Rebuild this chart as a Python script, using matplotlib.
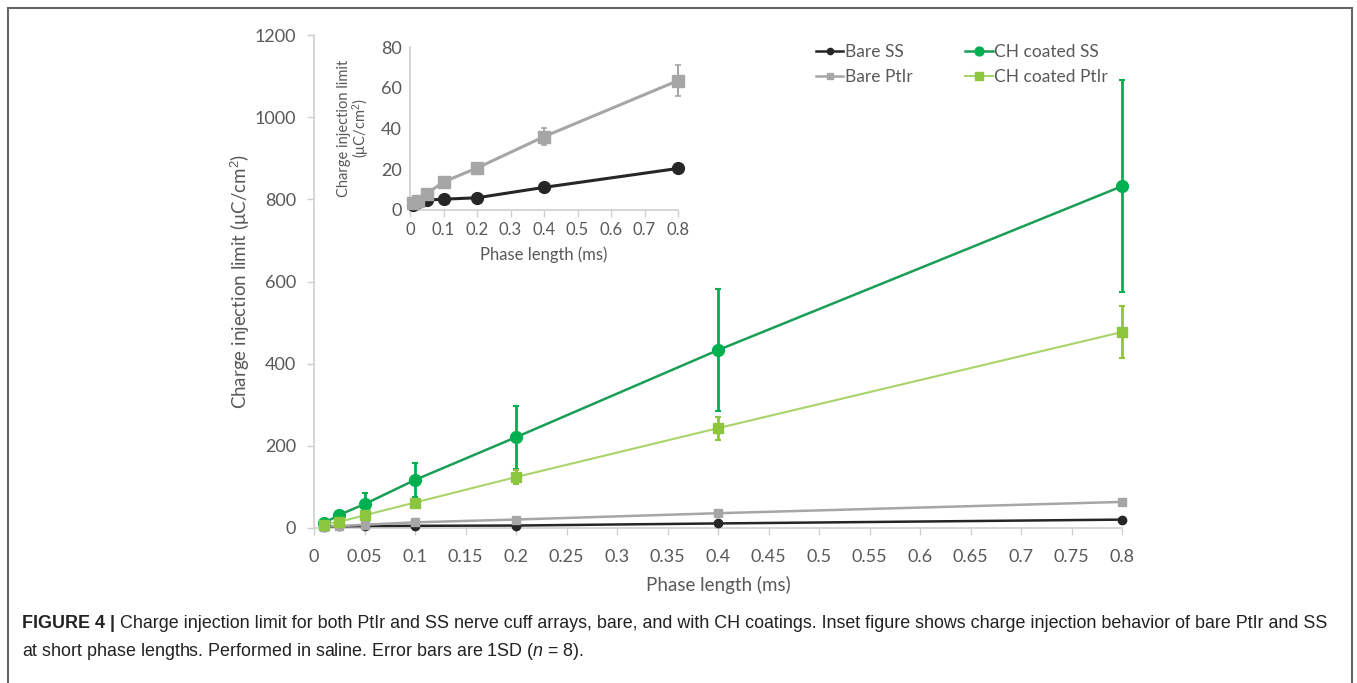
import numpy as np
import matplotlib
matplotlib.use("Agg")
import matplotlib.pyplot as plt
from matplotlib.patches import Rectangle

# phase lengths tested (ms)
phase_ms = [0.01, 0.025, 0.05, 0.1, 0.2, 0.4, 0.8]

# charge injection limit, uC/cm2, mean and 1SD
bare_ss = [2.4, 3.8, 4.9, 5.3, 6.0, 11.1, 20.4]
bare_ss_sd = [0.3, 0.3, 0.4, 0.5, 0.6, 1.0, 1.2]
bare_ptir = [3.5, 4.6, 8.0, 13.8, 20.6, 36.0, 63.5]
bare_ptir_sd = [0.4, 0.5, 0.8, 1.2, 1.5, 4.0, 7.7]
ch_ss = [12, 32, 58, 117, 221, 433, 832]
ch_ss_sd = [4, 6, 26, 41, 77, 148, 258]
ch_ptir = [8, 15, 31, 62, 124, 243, 477]
ch_ptir_sd = [2, 3, 4, 6, 17, 28, 64]

labels = ["Bare SS", "Bare PtIr", "CH coated SS", "CH coated PtIr"]
caption_bold = "FIGURE 4 | "
caption_1 = ("Charge injection limit for both PtIr and SS nerve cuff arrays, bare, and with CH coatings. "
             "Inset figure shows charge injection behavior of bare PtIr and SS")
caption_2 = "at short phase lengths. Performed in saline. Error bars are 1SD ($n$ = 8)."

plt.rcParams["font.family"] = ["Lato", "DejaVu Sans"]
plt.rcParams["mathtext.fontset"] = "custom"
plt.rcParams["mathtext.it"] = "Liberation Sans:italic"
plt.rcParams["mathtext.rm"] = "Liberation Sans"

tick_col = "#595959"
axis_col = "#d0d0d0"

series = [
    (bare_ss, bare_ss_sd, "#262626", "#262626", "o", 6, 1.8),
    (bare_ptir, bare_ptir_sd, "#a6a6a6", "#a6a6a6", "s", 6, 1.8),
    (ch_ss, ch_ss_sd, "#1a9e55", "#00b050", "o", 8.5, 1.8),
    (ch_ptir, ch_ptir_sd, "#a8d46a", "#8cc63f", "s", 7.5, 1.5),
]

fig = plt.figure(figsize=(13.57, 6.83), dpi=100)


def style_axes(ax, size):
    for side in ("top", "right"):
        ax.spines[side].set_visible(False)
    for side in ("left", "bottom"):
        ax.spines[side].set_color(axis_col)
        ax.spines[side].set_linewidth(1.2)
    ax.tick_params(colors=axis_col, labelcolor=tick_col, labelsize=size, length=5, width=1)
    ax.set_facecolor("white")


# main chart
ax = fig.add_axes([314 / 1357, 155 / 683, 808 / 1357, 493 / 683])
handles = []
for (vals, sd, lc, mc, mk, ms, lw), lab in zip(series, labels):
    line, = ax.plot(phase_ms, vals, color=lc, lw=lw, marker=mk, ms=ms,
                    mfc=mc, mec=mc, label=lab, zorder=3, clip_on=False)
    eb = ax.errorbar(phase_ms, vals, yerr=sd, fmt="none", ecolor=mc, elinewidth=2,
                     capsize=2.5, capthick=1.5, zorder=2)
    for art in eb.lines[1] + eb.lines[2]:
        art.set_clip_on(False)
    handles.append(line)

ax.set_xlim(0, 0.8)
ax.set_ylim(0, 1200)
xt = np.round(np.arange(0, 0.801, 0.05), 2)
ax.set_xticks(xt)
ax.set_xticklabels([f"{v:g}" for v in xt])
ax.set_yticks(range(0, 1201, 200))
style_axes(ax, 13)
ax.tick_params(axis="x", pad=10)
ax.tick_params(axis="y", pad=8)
ax.set_xlabel("Phase length (ms)", fontsize=13.5, color=tick_col, labelpad=8)
ax.set_ylabel("Charge injection limit (μC/cm$^2$)", fontsize=13.5, color=tick_col, labelpad=2)

fig.legend(handles=handles, labels=labels, ncol=2, loc="upper left",
           bbox_to_anchor=(800 / 1357, 1 - 28 / 683), frameon=False,
           fontsize=12.5, labelcolor=tick_col, handlelength=1.6, handletextpad=0.1,
           columnspacing=3.0, labelspacing=0.55, markerscale=0.75)

# inset with the bare electrodes only
ins = fig.add_axes([410 / 1357, 473 / 683, 268 / 1357, 163 / 683])
for vals, sd, lc, mc, mk, ms, lw in series[:2]:
    ins.plot(phase_ms, vals, color=lc, lw=2.2, marker=mk, ms=8.5,
             mfc=mc, mec=mc, zorder=3, clip_on=False)
    eb = ins.errorbar(phase_ms, vals, yerr=sd, fmt="none", ecolor=mc, elinewidth=1.5,
                      capsize=2, capthick=1.2, zorder=2)
    for art in eb.lines[1] + eb.lines[2]:
        art.set_clip_on(False)
ins.set_xlim(0, 0.8)
ins.set_ylim(0, 80)
it = np.round(np.arange(0, 0.801, 0.1), 1)
ins.set_xticks(it)
ins.set_xticklabels([f"{v:g}" for v in it])
ins.set_yticks(range(0, 81, 20))
style_axes(ins, 12)
ins.tick_params(axis="y", labelsize=13, length=0, pad=6)
ins.set_xlabel("Phase length (ms)", fontsize=12, color=tick_col, labelpad=6)
ins.set_ylabel("Charge injection limit\n(μC/cm$^2$)", fontsize=10.5, color=tick_col,
               labelpad=6, linespacing=1.0)

# caption
cap_kw = dict(fontsize=12.9, family="Liberation Sans", color="#222222")
fig.text(22 / 1357, 1 - 628 / 683, caption_bold, fontweight="bold", **cap_kw)
fig.canvas.draw()
bold = fig.texts[-1].get_window_extent(renderer=fig.canvas.get_renderer())
fig.text(bold.x1 / 1357, 1 - 628 / 683, caption_1, **cap_kw)
fig.text(22 / 1357, 1 - 656 / 683, caption_2, **cap_kw)

# outer frame
fig.patches.append(Rectangle((8 / 1357, -0.02), 1344 / 1357, 1 - 8 / 683 + 0.02,
                             transform=fig.transFigure, fill=False,
                             edgecolor="#666666", lw=1.5))

fig.savefig("out.png", dpi=100)
